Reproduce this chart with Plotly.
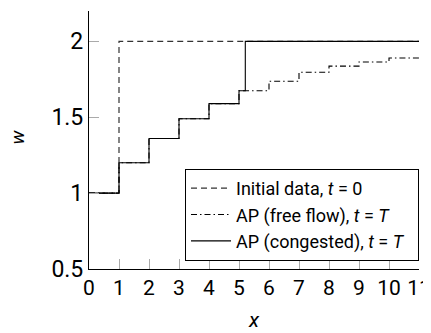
import plotly.graph_objects as go

# Data
x_init = [0, 1, 11]
w_init = [1, 2, 2]

x_free = [0, 1, 2, 3, 4, 5, 6, 7, 8, 9, 10, 11]
w_free = [1, 1.2, 1.36, 1.49, 1.59, 1.675, 1.737, 1.796, 1.837, 1.864, 1.89, 1.89]

x_cong = [0, 1, 2, 3, 4, 5, 5.21, 11]
w_cong = [1, 1.2, 1.36, 1.49, 1.59, 1.675, 2, 2]

x_ticks = list(range(0, 12))
y_ticks = [0.5, 1, 1.5, 2]
y_tick_labels = ["0.5", "1", "1.5", "2"]

FONT = "Roboto"
PAD = "\u00a0\u00a0"

fig = go.Figure()
fig.add_trace(go.Scatter(x=x_init, y=w_init, mode="lines", line_shape="hv",
                         line=dict(color="#333", width=1.2, dash="6px,4px"),
                         name="Initial data, <i>t</i> = 0" + PAD))
fig.add_trace(go.Scatter(x=x_free, y=w_free, mode="lines", line_shape="hv",
                         line=dict(color="black", width=1.1, dash="6px,3px,1.5px,3px"),
                         name="AP (free flow), <i>t</i> = <i>T</i>" + PAD))
fig.add_trace(go.Scatter(x=x_cong, y=w_cong, mode="lines", line_shape="hv",
                         line=dict(color="black", width=1.1),
                         name="AP (congested), <i>t</i> = <i>T</i>" + PAD))

# page body has an 8px margin, so the figure is offset by 8px
fig.update_layout(
    width=431, height=325,
    margin=dict(l=81, r=20, t=3, b=64, autoexpand=False),
    plot_bgcolor="white", paper_bgcolor="white",
    font=dict(family=FONT, color="black"),
    showlegend=True,
    legend=dict(x=1, xanchor="right", y=0.388, yanchor="top",
                bordercolor="black", borderwidth=1, bgcolor="white",
                itemwidth=40,
                font=dict(size=18, family=FONT), tracegroupgap=0),
    xaxis=dict(range=[0, 11], tickvals=x_ticks, ticks="inside", ticklen=10,
               tickcolor="#aaa", tickwidth=1, showline=True, linecolor="black",
               linewidth=1.2, showgrid=False, zeroline=False, automargin=False,
               ticklabeloverflow="allow",
               tickfont=dict(size=21, family=FONT)),
    yaxis=dict(range=[0.5, 2.2], tickvals=y_ticks, ticktext=y_tick_labels,
               ticks="inside", ticklen=10, tickcolor="#aaa", tickwidth=1,
               showline=True, linecolor="black", linewidth=1.2, showgrid=False,
               zeroline=False, automargin=False,
               tickfont=dict(size=23, family=FONT)),
    annotations=[
        dict(text="<i>x</i>", xref="paper", yref="paper", x=0.5, y=-0.198,
             yanchor="middle", showarrow=False, font=dict(size=21, family=FONT)),
        dict(text="<i>w</i>", xref="paper", yref="paper", x=-0.218, y=0.51,
             xanchor="center", yanchor="middle", textangle=-90, showarrow=False,
             font=dict(size=19, family=FONT)),
    ],
)

fig.write_html("out.html")
